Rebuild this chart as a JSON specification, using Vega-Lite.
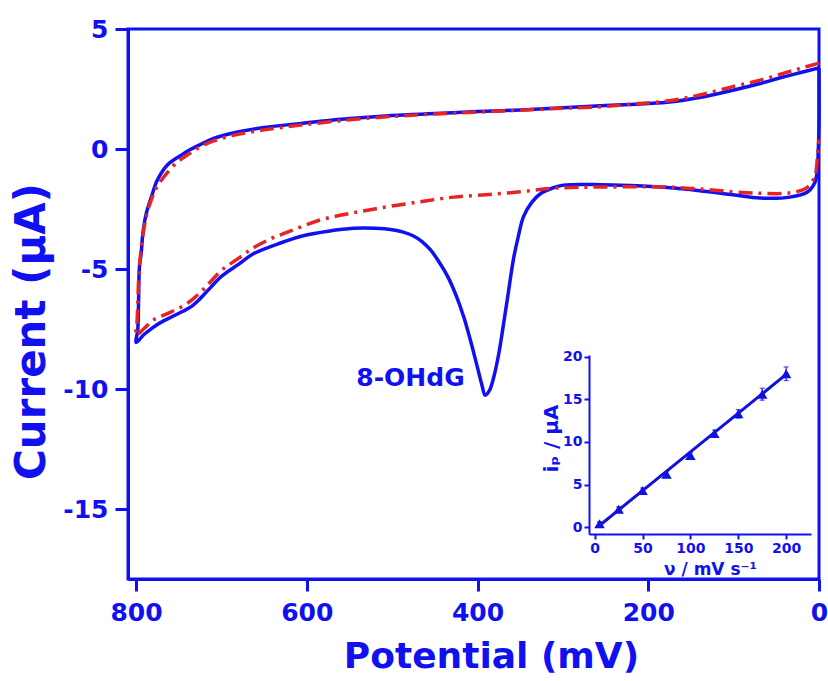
{
  "$schema": "https://vega.github.io/schema/vega-lite/v6.json",
  "width": 691,
  "height": 550,
  "autosize": {"type": "none"},
  "padding": {"left": 128, "top": 29, "right": 9, "bottom": 102},
  "background": "white",
  "config": {
    "view": {"stroke": "#1010f0", "strokeWidth": 3},
    "axis": {"grid": false, "labelFont": "DejaVu Sans", "titleFont": "DejaVu Sans", "labelFontWeight": "bold", "titleFontWeight": "bold", "labelColor": "#1010f0", "titleColor": "#1010f0", "domainColor": "#1010f0", "tickColor": "#1010f0", "labelOverlap": false, "labelFlush": false}
  },
  "datasets": {
    "blue": [
      {"k":0,"E":0,"I":3.38},{"k":1,"E":20,"I":3.2},{"k":2,"E":42,"I":3.0},{"k":3,"E":70,"I":2.72},{"k":4,"E":101,"I":2.45},{"k":5,"E":140,"I":2.15},{"k":6,"E":178,"I":1.95},{"k":7,"E":220,"I":1.86},{"k":8,"E":256,"I":1.8},{"k":9,"E":300,"I":1.72},{"k":10,"E":350,"I":1.63},{"k":11,"E":400,"I":1.56},{"k":12,"E":450,"I":1.48},{"k":13,"E":500,"I":1.4},{"k":14,"E":550,"I":1.27},{"k":15,"E":607,"I":1.07},{"k":16,"E":650,"I":0.9},{"k":17,"E":685,"I":0.68},{"k":18,"E":710,"I":0.43},{"k":19,"E":724,"I":0.2},{"k":20,"E":738,"I":-0.05},{"k":21,"E":747,"I":-0.25},{"k":22,"E":763,"I":-0.65},{"k":23,"E":775,"I":-1.29},{"k":24,"E":782,"I":-1.99},{"k":25,"E":788,"I":-2.68},{"k":26,"E":792,"I":-3.51},{"k":27,"E":794,"I":-4.35},{"k":28,"E":796,"I":-4.9},{"k":29,"E":797,"I":-6.3},{"k":30,"E":798,"I":-7.54},{"k":31,"E":800,"I":-8.05},
      {"k":32,"E":790,"I":-7.7},{"k":33,"E":775,"I":-7.3},{"k":34,"E":759,"I":-7.0},{"k":35,"E":745,"I":-6.75},{"k":36,"E":735,"I":-6.55},{"k":37,"E":727,"I":-6.3},{"k":38,"E":715,"I":-5.85},{"k":39,"E":700,"I":-5.3},{"k":40,"E":680,"I":-4.8},{"k":41,"E":662,"I":-4.35},{"k":42,"E":630,"I":-3.9},{"k":43,"E":603,"I":-3.6},{"k":44,"E":575,"I":-3.42},{"k":45,"E":545,"I":-3.3},{"k":46,"E":520,"I":-3.3},{"k":47,"E":500,"I":-3.36},{"k":48,"E":487,"I":-3.46},{"k":49,"E":475,"I":-3.62},{"k":50,"E":465,"I":-3.85},{"k":51,"E":455,"I":-4.2},{"k":52,"E":445,"I":-4.7},{"k":53,"E":435,"I":-5.3},{"k":54,"E":425,"I":-6.1},{"k":55,"E":416,"I":-7.0},{"k":56,"E":408,"I":-8.0},{"k":57,"E":400,"I":-9.1},{"k":58,"E":395,"I":-9.8},{"k":59,"E":391,"I":-10.25},{"k":60,"E":386,"I":-10.05},{"k":61,"E":381,"I":-9.5},{"k":62,"E":375,"I":-8.5},{"k":63,"E":370,"I":-7.4},{"k":64,"E":364,"I":-6.0},{"k":65,"E":358,"I":-4.6},{"k":66,"E":352,"I":-3.6},{"k":67,"E":346,"I":-2.8},{"k":68,"E":336,"I":-2.2},{"k":69,"E":326,"I":-1.85},{"k":70,"E":312,"I":-1.62},{"k":71,"E":299,"I":-1.5},{"k":72,"E":256,"I":-1.48},{"k":73,"E":220,"I":-1.52},{"k":74,"E":178,"I":-1.6},{"k":75,"E":140,"I":-1.73},{"k":76,"E":101,"I":-1.9},{"k":77,"E":69,"I":-2.04},{"k":78,"E":34,"I":-2.0},{"k":79,"E":14,"I":-1.8},{"k":80,"E":5,"I":-1.4},{"k":81,"E":2,"I":-0.9},{"k":82,"E":1,"I":-0.2},{"k":83,"E":0,"I":1.0},{"k":84,"E":0,"I":3.38}
    ],
    "red": [
      {"k":0,"E":0,"I":3.58},{"k":1,"E":20,"I":3.38},{"k":2,"E":42,"I":3.15},{"k":3,"E":70,"I":2.86},{"k":4,"E":101,"I":2.6},{"k":5,"E":140,"I":2.25},{"k":6,"E":178,"I":2.0},{"k":7,"E":220,"I":1.87},{"k":8,"E":256,"I":1.76},{"k":9,"E":300,"I":1.7},{"k":10,"E":350,"I":1.62},{"k":11,"E":400,"I":1.54},{"k":12,"E":450,"I":1.46},{"k":13,"E":500,"I":1.36},{"k":14,"E":550,"I":1.22},{"k":15,"E":607,"I":1.0},{"k":16,"E":650,"I":0.8},{"k":17,"E":685,"I":0.58},{"k":18,"E":710,"I":0.33},{"k":19,"E":727,"I":0.05},{"k":20,"E":740,"I":-0.25},{"k":21,"E":752,"I":-0.55},{"k":22,"E":765,"I":-1.05},{"k":23,"E":775,"I":-1.55},{"k":24,"E":782,"I":-2.1},{"k":25,"E":788,"I":-2.8},{"k":26,"E":792,"I":-3.6},{"k":27,"E":795,"I":-4.5},{"k":28,"E":797,"I":-5.5},{"k":29,"E":798,"I":-6.5},{"k":30,"E":799,"I":-7.3},{"k":31,"E":800,"I":-7.75},
      {"k":32,"E":790,"I":-7.45},{"k":33,"E":779,"I":-7.1},{"k":34,"E":760,"I":-6.8},{"k":35,"E":739,"I":-6.4},{"k":36,"E":720,"I":-5.8},{"k":37,"E":700,"I":-5.05},{"k":38,"E":680,"I":-4.55},{"k":39,"E":662,"I":-4.1},{"k":40,"E":640,"I":-3.7},{"k":41,"E":622,"I":-3.45},{"k":42,"E":584,"I":-2.95},{"k":43,"E":545,"I":-2.65},{"k":44,"E":505,"I":-2.4},{"k":45,"E":465,"I":-2.18},{"k":46,"E":428,"I":-2.0},{"k":47,"E":390,"I":-1.9},{"k":48,"E":350,"I":-1.78},{"k":49,"E":311,"I":-1.63},{"k":50,"E":256,"I":-1.58},{"k":51,"E":178,"I":-1.58},{"k":52,"E":140,"I":-1.66},{"k":53,"E":101,"I":-1.78},{"k":54,"E":70,"I":-1.84},{"k":55,"E":42,"I":-1.85},{"k":56,"E":25,"I":-1.76},{"k":57,"E":14,"I":-1.6},{"k":58,"E":5,"I":-1.15},{"k":59,"E":2,"I":-0.4},{"k":60,"E":1,"I":0.1},{"k":61,"E":0,"I":0.4}
    ],
    "label": [{"E":415,"I":-9.55,"t":"8-OHdG"}],
    "inset": [
      {"v":5,"ip":0.4,"lo":0.15,"hi":0.65},
      {"v":25,"ip":2.1,"lo":1.8,"hi":2.4},
      {"v":50,"ip":4.3,"lo":4.0,"hi":4.6},
      {"v":75,"ip":6.2,"lo":5.9,"hi":6.5},
      {"v":100,"ip":8.4,"lo":8.1,"hi":8.7},
      {"v":125,"ip":11.0,"lo":10.6,"hi":11.4},
      {"v":150,"ip":13.3,"lo":12.8,"hi":13.8},
      {"v":175,"ip":15.6,"lo":14.9,"hi":16.3},
      {"v":200,"ip":18.0,"lo":17.2,"hi":18.8}
    ],
    "fit": [{"v":5,"ip":0.2},{"v":202,"ip":18.1}]
  },
  "resolve": {"scale": {"x": "independent", "y": "independent"}, "axis": {"x": "independent", "y": "independent"}},
  "layer": [
    {
      "layer": [
        {
          "data": {"name": "blue"},
          "mark": {"type": "line", "color": "#1010f0", "strokeWidth": 3.5, "interpolate": "catmull-rom"},
          "encoding": {
            "x": {"field": "E", "type": "quantitative", "scale": {"domain": [0, 809.4], "reverse": true, "nice": false, "zero": false},
                  "axis": {"orient": "bottom", "values": [800, 600, 400, 200, 0], "labelExpr": "'' + datum.value", "domainWidth": 3, "tickWidth": 3, "tickSize": 12, "labelPadding": 9, "labelFontSize": 25, "title": "Potential (mV)", "titleFontSize": 36, "titleX": 363, "titleY": 88, "titleAlign": "center", "titleBaseline": "alphabetic"}},
            "y": {"field": "I", "type": "quantitative", "scale": {"domain": [-17.9, 5], "nice": false, "zero": false},
                  "axis": {"orient": "left", "values": [5, 0, -5, -10, -15], "labelExpr": "'' + datum.value", "domainWidth": 3, "tickWidth": 3, "tickSize": 13, "labelPadding": 7, "labelFontSize": 25, "title": "Current (µA)", "titleFontSize": 42, "titleX": -97, "titleY": 302, "titleAngle": -90, "titleAlign": "center", "titleBaseline": "middle"}},
            "order": {"field": "k", "type": "quantitative"}
          }
        },
        {
          "data": {"name": "red"},
          "mark": {"type": "line", "color": "#e82323", "strokeWidth": 3.5, "strokeDash": [14, 6, 3, 6], "interpolate": "catmull-rom"},
          "encoding": {
            "x": {"field": "E", "type": "quantitative", "title": "Potential (mV)"},
            "y": {"field": "I", "type": "quantitative", "title": "Current (µA)"},
            "order": {"field": "k", "type": "quantitative"}
          }
        },
        {
          "data": {"name": "label"},
          "mark": {"type": "text", "align": "right", "baseline": "middle", "font": "DejaVu Sans", "fontWeight": "bold", "fontSize": 25, "color": "#1010f0"},
          "encoding": {
            "x": {"field": "E", "type": "quantitative", "title": "Potential (mV)"},
            "y": {"field": "I", "type": "quantitative", "title": "Current (µA)"},
            "text": {"field": "t"}
          }
        }
      ]
    },
    {
      "layer": [
        {
          "data": {"name": "fit"},
          "mark": {"type": "line", "color": "#1010e0", "strokeWidth": 3},
          "encoding": {
            "x": {"field": "v", "type": "quantitative", "scale": {"domain": [-6, 226], "range": [461, 683], "nice": false, "zero": false},
                  "axis": {"orient": "bottom", "offset": -45, "values": [0, 50, 100, 150, 200], "domainWidth": 2, "tickWidth": 2, "tickSize": 5, "labelPadding": 2, "labelFontSize": 14, "title": "ν / mV s⁻¹", "titleFontSize": 17, "titleX": 582, "titleY": 40, "titleAlign": "center", "titleBaseline": "alphabetic"}},
            "y": {"field": "ip", "type": "quantitative", "scale": {"domain": [-0.8, 20.2], "range": [505, 326], "nice": false, "zero": false},
                  "axis": {"orient": "left", "offset": -461, "values": [0, 5, 10, 15, 20], "domainWidth": 2, "tickWidth": 2, "tickSize": 5, "labelPadding": 2, "labelFontSize": 14, "title": "iₚ / µA", "titleFontSize": 20, "titleX": -38, "titleY": 409, "titleAngle": -90, "titleAlign": "center", "titleBaseline": "middle"}}
          }
        },
        {
          "data": {"name": "inset"},
          "mark": {"type": "errorbar", "ticks": {"size": 5}, "color": "#1010e0", "thickness": 1.2},
          "encoding": {
            "x": {"field": "v", "type": "quantitative", "title": "ν / mV s⁻¹"},
            "y": {"field": "lo", "type": "quantitative", "title": "iₚ / µA"},
            "y2": {"field": "hi"}
          }
        },
        {
          "data": {"name": "inset"},
          "mark": {"type": "point", "shape": "triangle-up", "filled": true, "size": 110, "color": "#1010e0", "opacity": 1},
          "encoding": {
            "x": {"field": "v", "type": "quantitative", "title": "ν / mV s⁻¹"},
            "y": {"field": "ip", "type": "quantitative", "title": "iₚ / µA"}
          }
        }
      ]
    }
  ]
}
